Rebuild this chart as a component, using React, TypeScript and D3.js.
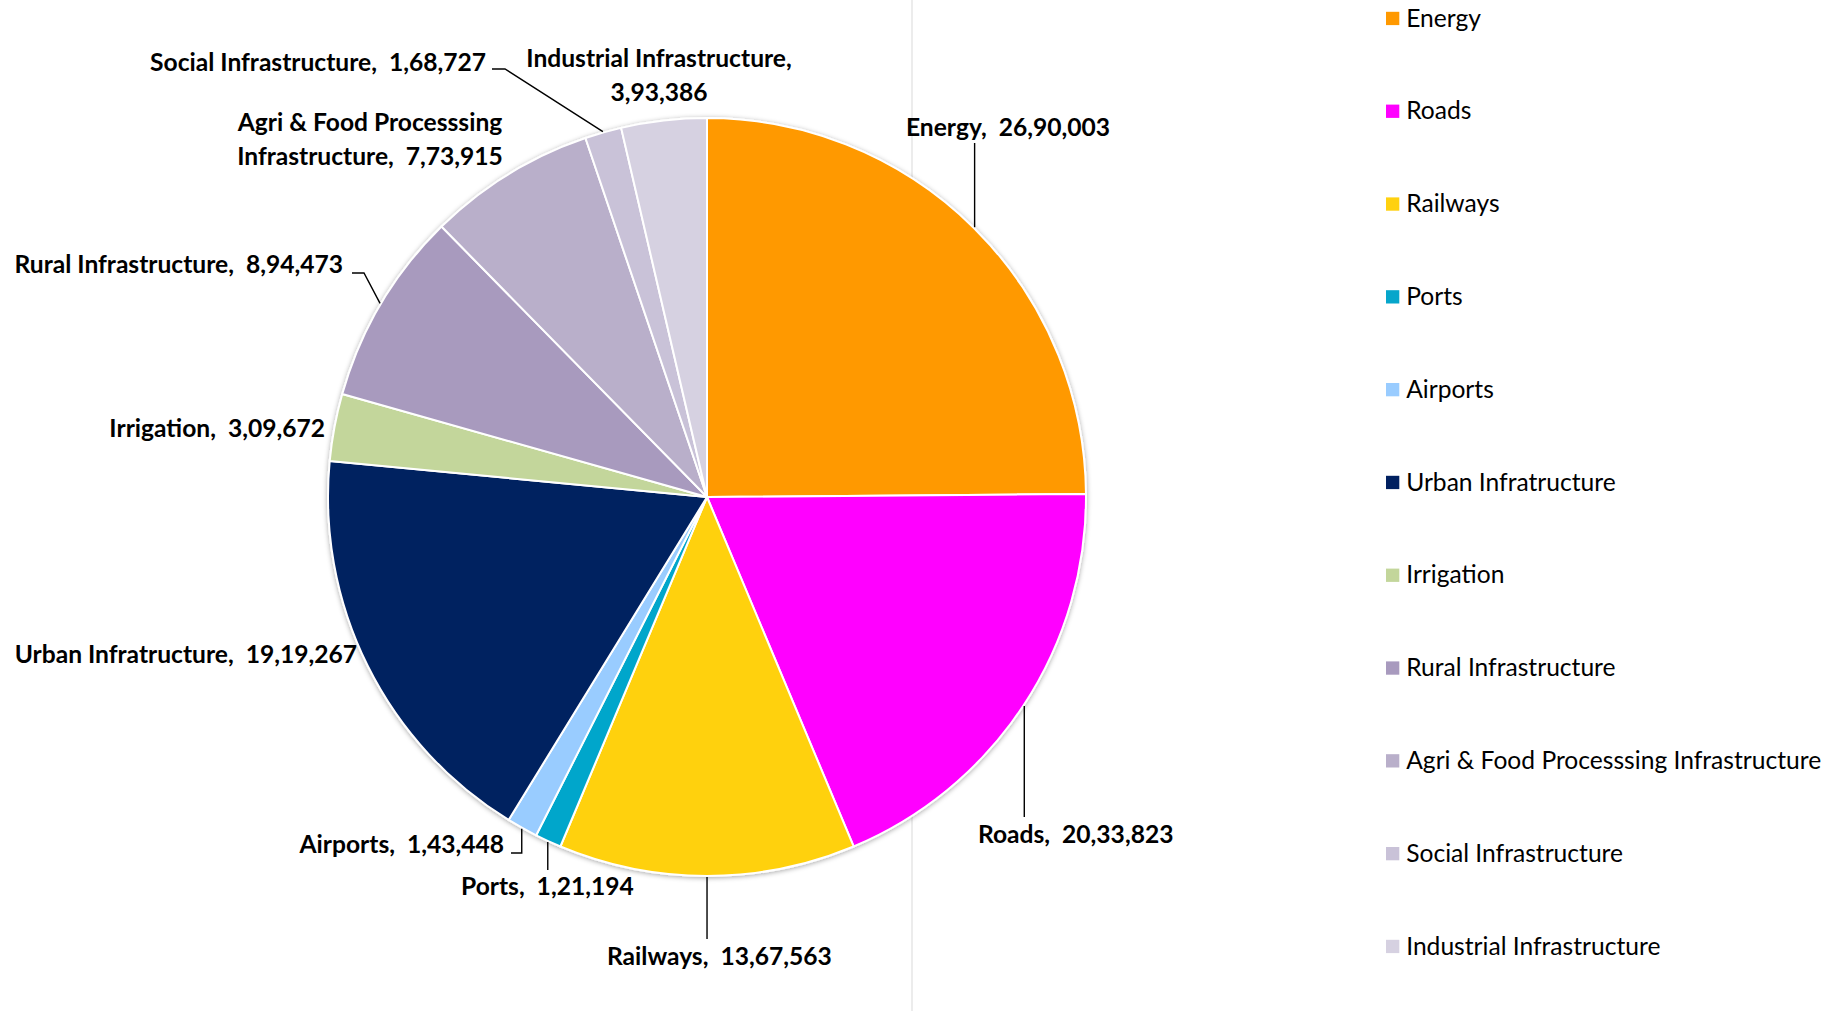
import React from 'react';
import * as d3 from 'd3';

const categories = [
  'Energy', 'Roads', 'Railways', 'Ports', 'Airports', 'Urban Infratructure',
  'Irrigation', 'Rural Infrastructure', 'Agri & Food Processsing Infrastructure',
  'Social Infrastructure', 'Industrial Infrastructure',
];
const values = [2690003, 2033823, 1367563, 121194, 143448, 1919267, 309672, 894473, 773915, 168727, 393386];
const colors = ['#FF9900', '#FF00FF', '#FFD10F', '#06A6CB', '#99CCFF', '#002060', '#C3D69B', '#A89ABE', '#B9AFCA', '#C9C2D8', '#D6D1E1'];

// label layout (positions only)
type Lay = { x: number; y: number; anchor: string; brk?: number | 'name'; leader?: [number | null, number][] };
const labelLayout: Lay[] = [
  { x: 906, y: 135.5, anchor: 'start', leader: [[null, 143]] },
  { x: 978, y: 842.5, anchor: 'start', leader: [[null, 817]] },
  { x: 607, y: 964.5, anchor: 'start', leader: [[null, 939]] },
  { x: 461, y: 895, anchor: 'start', leader: [[null, 870]] },
  { x: 504, y: 853, anchor: 'end', leader: [[null, 853], [511, 853]] },
  { x: 357, y: 662.5, anchor: 'end' },
  { x: 325, y: 436.5, anchor: 'end' },
  { x: 343, y: 273, anchor: 'end', leader: [[364, 273], [352, 273]] },
  { x: 370, y: 130.5, anchor: 'middle', brk: 4 },
  { x: 486, y: 70.5, anchor: 'end', leader: [[505, 69], [492, 69]] },
  { x: 659, y: 66.5, anchor: 'middle', brk: 'name' },
];

const W = 1838, H = 1011;
const cx = 707, cy = 497, R = 379;
const lineGap = 34;

function indian(n: number): string {
  const s = String(n);
  if (s.length <= 3) return s;
  const last3 = s.slice(-3);
  const rest = s.slice(0, -3).replace(/\B(?=(\d{2})+(?!\d))/g, ',');
  return rest + ',' + last3;
}

function labelLines(i: number): string[] {
  const name = categories[i];
  const v = indian(values[i]);
  const b = labelLayout[i].brk;
  if (b === 'name') return [name + ',', v];
  if (typeof b === 'number') {
    const w = name.split(' ');
    return [w.slice(0, b).join(' '), w.slice(b).join(' ') + ',  ' + v];
  }
  return [name + ',  ' + v];
}

export default function App() {
  const pie = d3.pie<number>().sort(null).value((d) => d)(values);
  const arc = d3.arc<d3.PieArcDatum<number>>().innerRadius(0).outerRadius(R);
  const legendY = d3.scalePoint<number>().domain(d3.range(categories.length)).range([18.5, 946.5]);
  const font = 'Lato, Carlito, Calibri, sans-serif';

  return (
    <svg width={W} height={H} style={{ position: 'absolute', left: 0, top: 0, display: 'block', background: '#fff' }}>
      <defs>
        <filter id="sh" x="-10%" y="-10%" width="120%" height="120%">
          <feDropShadow dx="0" dy="1" stdDeviation="2.5" floodColor="#000" floodOpacity="0.35" />
        </filter>
      </defs>
      <rect x={0} y={0} width={W} height={H} fill="#fff" />
      <line x1={912} x2={912} y1={0} y2={H} stroke="#D9D9D9" strokeWidth={1} />
      <g transform={`translate(${cx},${cy})`} filter="url(#sh)">
        {pie.map((p, i) => (
          <path key={i} d={arc(p) || ''} fill={colors[i]} stroke="#fff" strokeWidth={2} strokeLinejoin="round" />
        ))}
      </g>
      {pie.map((p, i) => {
        const lay = labelLayout[i];
        if (!lay.leader) return null;
        const a = (p.startAngle + p.endAngle) / 2;
        const ax = cx + (R + 1) * Math.sin(a);
        const ay = cy - (R + 1) * Math.cos(a);
        const pts: [number, number][] = [[ax, ay], ...lay.leader.map((q) => [q[0] === null ? ax : q[0], q[1]] as [number, number])];
        return <path key={'l' + i} d={d3.line()(pts) || ''} fill="none" stroke="#000" strokeWidth={1.4} />;
      })}
      {categories.map((c, i) => {
        const lay = labelLayout[i];
        const lines = labelLines(i);
        return (
          <text key={'t' + i} x={lay.x} y={lay.y} textAnchor={lay.anchor as any} fontFamily={font} fontWeight={700} fontSize={24.6} fill="#000" style={{ whiteSpace: 'pre' }}>
            {lines.map((ln, j) => (
              <tspan key={j} x={lay.x} y={lay.y + j * lineGap}>{ln}</tspan>
            ))}
          </text>
        );
      })}
      {categories.map((c, i) => (
        <g key={'lg' + i} transform={`translate(1386,${legendY(i)})`}>
          <rect x={0} y={-6.7} width={13.3} height={13.3} fill={colors[i]} />
          <text x={20.2} y={8} fontFamily={font} fontSize={24.6} fill="#000">{c}</text>
        </g>
      ))}
    </svg>
  );
}
